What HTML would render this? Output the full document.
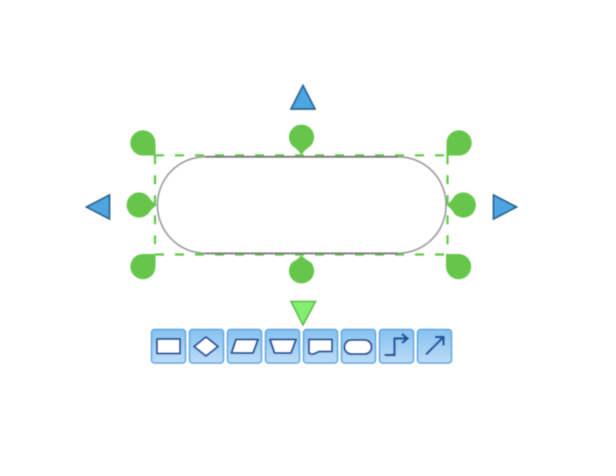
<!DOCTYPE html>
<html>
<head>
<meta charset="utf-8">
<style>
html,body{margin:0;padding:0;background:#fff;width:616px;height:476px;overflow:hidden}
svg{display:block}
</style>
</head>
<body>
<svg width="616" height="476" viewBox="0 0 616 476" xmlns="http://www.w3.org/2000/svg">
<defs>
<linearGradient id="b" x1="0" y1="0" x2="0" y2="1">
<stop offset="0" stop-color="#86c1ef"/>
<stop offset="1" stop-color="#bcdcf6"/>
</linearGradient>
<filter id="s" x="-5%" y="-5%" width="110%" height="110%"><feGaussianBlur stdDeviation="0.5"/></filter>
</defs>
<g filter="url(#s)">
<!-- selection -->
<path d="M155 155.300H447.500M155 254.500H447.500M155 155.300V254.500M447.500 155.300V254.500" fill="none" stroke="#5fc944" stroke-width="2.200" stroke-dasharray="9 11"/>
<!-- shape -->
<rect x="157.500" y="156.800" width="288.500" height="96.500" rx="48" ry="48" fill="#fff" stroke="#969696" stroke-width="1.600"/>
<path d="M205 156.800H398M205 253.300H398" fill="none" stroke="#777" stroke-width="1.800"/>
<!-- handles -->
<g fill="#66c64c">
<path d="M155.500 155.500H143A12.600 12.600 0 1 1 155.500 143Z"/>
<path d="M446.500 155.500H459A12.600 12.600 0 1 0 446.500 143Z"/>
<path d="M155.500 254H143A12.600 12.600 0 1 0 155.500 266.500Z"/>
<path d="M446 254H458.500A12.600 12.600 0 1 1 446 266.500Z"/>
<path d="M301.500 155Q298.500 150 292.500 146A12.600 12.600 0 1 1 310.500 146Q304.500 150 301.500 155Z"/>
<path d="M301.500 255Q298.500 259 292.500 262A12.600 12.600 0 1 0 310.500 262Q304.500 259 301.500 255Z"/>
<path d="M157 205Q152 202 148 196A12.600 12.600 0 1 0 148 214Q152 208 157 205Z"/>
<path d="M446.500 205Q451 202 454.500 196A12.600 12.600 0 1 1 454.500 214Q451 208 446.500 205Z"/>
</g>
<!-- arrows -->
<g fill="#4ea6e2" stroke="#2a618f" stroke-width="1.700" stroke-linejoin="miter">
<path d="M303 85.500L315 109H291Z"/>
<path d="M86.500 207L109.500 195V219Z"/>
<path d="M516.500 207L493.500 195V219Z"/>
</g>
<path d="M291 301.500H315.500L303 325Z" fill="#84ee70" stroke="#55bb44" stroke-width="1.500"/>
<!-- buttons -->
<g fill="url(#b)" stroke="#5fa6e0" stroke-width="1.500">
<rect x="151.500" y="329.500" width="34" height="33.500" rx="3"/>
<rect x="189.500" y="329.500" width="34" height="33.500" rx="3"/>
<rect x="227.500" y="329.500" width="34" height="33.500" rx="3"/>
<rect x="265.500" y="329.500" width="34" height="33.500" rx="3"/>
<rect x="303.500" y="329.500" width="34" height="33.500" rx="3"/>
<rect x="341.500" y="329.500" width="34" height="33.500" rx="3"/>
<rect x="379.500" y="329.500" width="34" height="33.500" rx="3"/>
<rect x="417.500" y="329.500" width="34" height="33.500" rx="3"/>
</g>
<!-- icons -->
<g fill="#fff" stroke="#14529c" stroke-width="2" stroke-linejoin="round">
<rect x="157" y="339" width="23" height="14.500"/>
<path d="M206 337L218 346.500L206 356L194 346.500Z"/>
<path d="M236 339.500H258L253 353H231.500Z"/>
<path d="M270 339.500H296L291 353H274.500Z"/>
<path d="M309 339.500H332V351.500H320C316 351.500 315 355.500 310 353.500L309 353Z"/>
<rect x="344.500" y="340" width="27" height="14" rx="6.800"/>
</g>
<g fill="none" stroke="#14529c" stroke-width="2.200">
<path d="M384.500 355H394.500V338.500H407"/>
<path d="M402 334L407.500 338.500L402 343"/>
<path d="M426 354.500L443.500 337"/>
<path d="M435 337H443.500V345.500"/>
</g>
</g>
</svg>
</body>
</html>
